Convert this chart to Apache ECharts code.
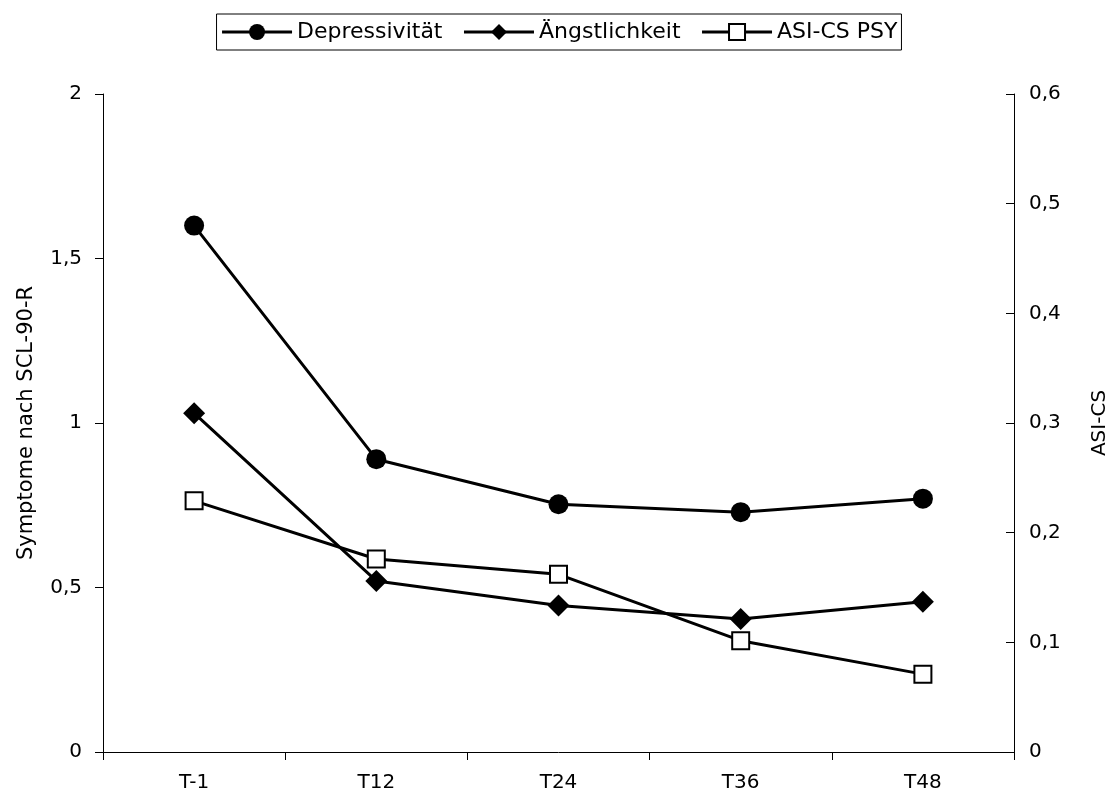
<!DOCTYPE html>
<html><head><meta charset="utf-8">
<script src="https://cdn.jsdelivr.net/npm/echarts@6/dist/echarts.min.js"></script>
<style>html,body{margin:0;padding:0;background:#fff}#c{width:1118px;height:797px}</style>
</head><body><div id="c"></div>
<script>
const categories = ['T-1','T12','T24','T36','T48'];
const depressivitaet = [1.6, 0.89, 0.753, 0.729, 0.77];
const aengstlichkeit = [1.03, 0.52, 0.445, 0.404, 0.457];
const asiCsPsy = [0.229, 0.176, 0.162, 0.1015, 0.071];
const seriesNames = ['Depressivität','Ängstlichkeit','ASI-CS PSY'];
const leftAxisName = 'Symptome nach SCL-90-R';
const rightAxisName = 'ASI-CS';

const FONT = 'DejaVu Sans';
const fmt = v => String(v).replace('.', ',');
const chart = echarts.init(document.getElementById('c'), null, {renderer:'canvas'});
const lineStyle = {color:'#000', width:3};
chart.setOption({
  animation:false,
  legend:{
    top:14, left:'center',
    borderColor:'#000', borderWidth:1, padding:[7,4,7,4],
    itemWidth:70, itemHeight:20, itemGap:20,
    lineStyle:{width:3, color:'#000'},
    textStyle:{fontFamily:FONT, fontSize:22, color:'#000'},
    data: seriesNames
  },
  grid:{left:103, right:103, top:94, bottom:45, containLabel:false},
  xAxis:{
    type:'category', data:categories, boundaryGap:true,
    axisLine:{lineStyle:{color:'#000', width:1}},
    axisTick:{show:true, length:8, lineStyle:{color:'#000'}},
    axisLabel:{fontFamily:FONT, fontSize:20, color:'#000', margin:21},
    splitLine:{show:false}
  },
  yAxis:[{
    type:'value', min:0, max:2, interval:0.5, position:'left',
    name:leftAxisName, nameLocation:'middle', nameGap:66, nameRotate:90,
    nameTextStyle:{fontFamily:FONT, fontSize:21, color:'#000'},
    axisLine:{show:true, lineStyle:{color:'#000', width:1}},
    axisTick:{show:true, length:8, lineStyle:{color:'#000'}},
    axisLabel:{fontFamily:FONT, fontSize:20, color:'#000', margin:21, formatter:fmt},
    splitLine:{show:false}
  },{
    type:'value', min:0, max:0.6, interval:0.1, position:'right',
    name:rightAxisName, nameLocation:'middle', nameGap:76, nameRotate:90,
    nameTextStyle:{fontFamily:FONT, fontSize:20, color:'#000'},
    axisLine:{show:true, lineStyle:{color:'#000', width:1}},
    axisTick:{show:true, length:8, inside:true, lineStyle:{color:'#000'}},
    axisLabel:{fontFamily:FONT, fontSize:20, color:'#000', margin:15, formatter:fmt},
    splitLine:{show:false}
  }],
  series:[
    {name:seriesNames[0], type:'line', yAxisIndex:0, data:depressivitaet,
     symbol:'circle', symbolSize:20, lineStyle, itemStyle:{color:'#000'}},
    {name:seriesNames[1], type:'line', yAxisIndex:0, data:aengstlichkeit,
     symbol:'diamond', symbolSize:22, lineStyle, itemStyle:{color:'#000'}},
    {name:seriesNames[2], type:'line', yAxisIndex:1, data:asiCsPsy,
     symbol:'rect', symbolSize:17, lineStyle, z:3,
     itemStyle:{color:'#fff', borderColor:'#000', borderWidth:2}}
  ]
});
</script></body></html>
